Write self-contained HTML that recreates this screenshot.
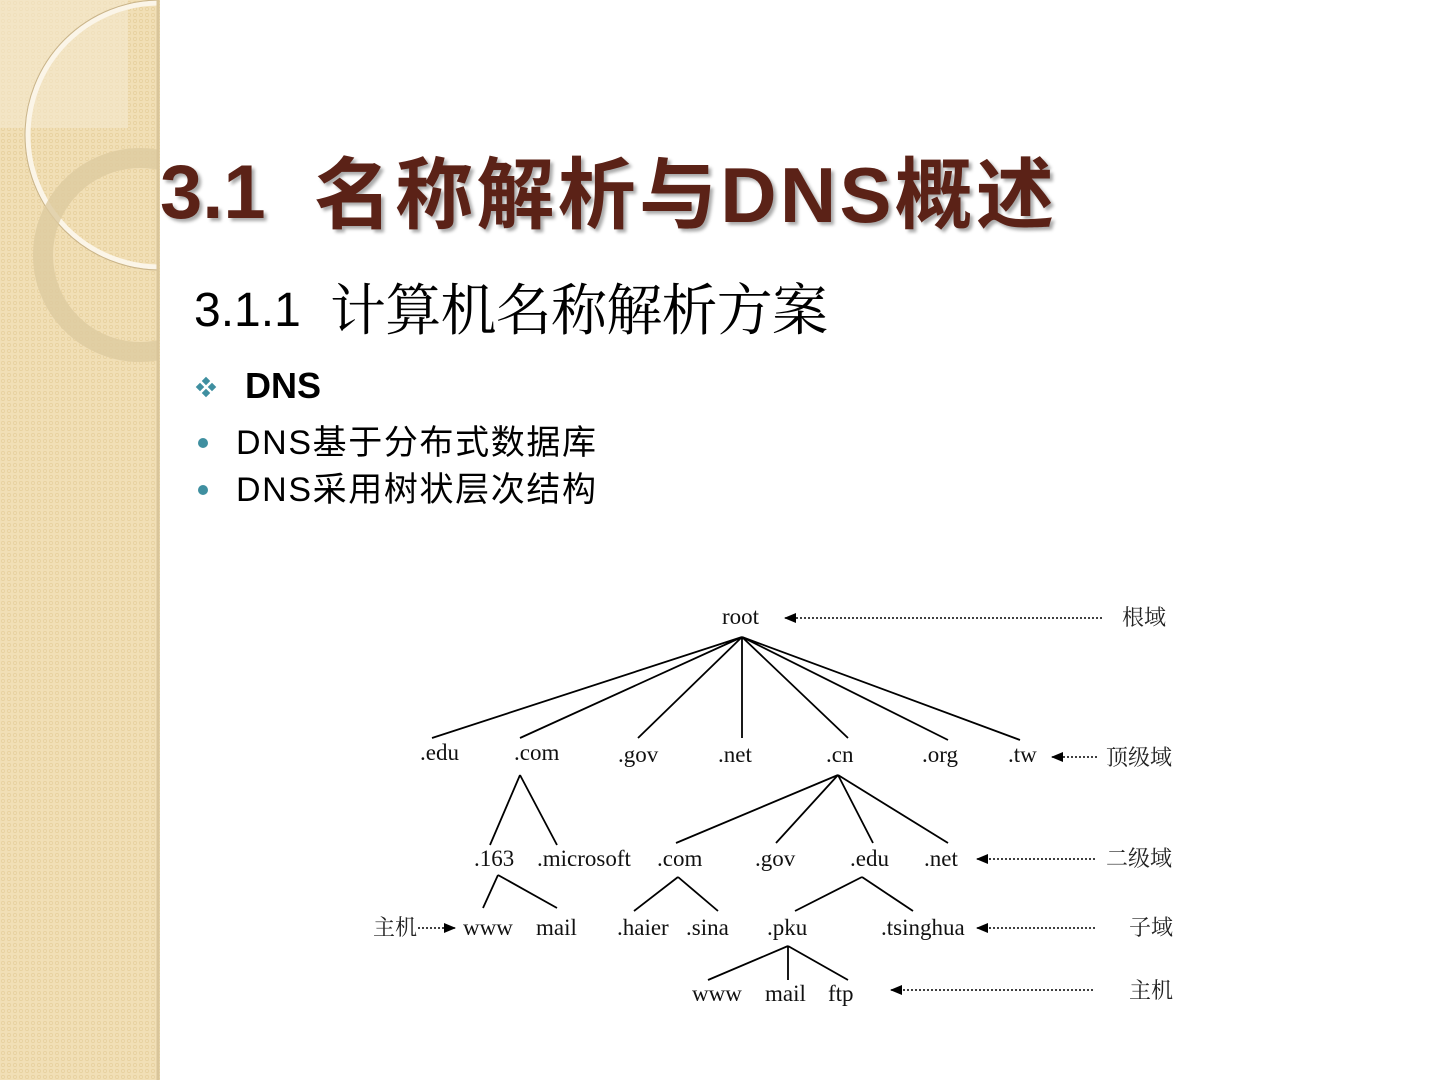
<!DOCTYPE html>
<html><head><meta charset="utf-8"><style>
body{margin:0;width:1440px;height:1080px;overflow:hidden;background:#fff}
svg{display:block}
.t{font-family:"Liberation Serif","Noto Serif CJK SC",serif;font-size:23px;fill:#111}
.c{font-family:"Liberation Serif","Noto Serif CJK SC",serif;font-size:22px;fill:#222}
</style></head><body>
<svg width="1440" height="1080" viewBox="0 0 1440 1080">
<defs>
<pattern id="p" width="6" height="6" patternUnits="userSpaceOnUse"><rect width="6" height="6" fill="#f1dfb6"/><circle cx="3" cy="3" r="1.6" fill="none" stroke="#e6cf9c" stroke-width="0.7"/></pattern>
<marker id="al" markerWidth="12" markerHeight="10" refX="11" refY="5" orient="auto" markerUnits="userSpaceOnUse"><path d="M0,0 L12,5 L0,10 Z" fill="#000"/></marker>
<clipPath id="band"><rect x="0" y="0" width="158" height="1080"/></clipPath>
</defs>
<rect x="0" y="0" width="160" height="1080" fill="url(#p)"/>
<g clip-path="url(#band)">
<rect x="0" y="0" width="128" height="128" fill="#f5e9cf" opacity="0.6"/>
<circle cx="160" cy="135" r="132" fill="none" stroke="#fbf5e8" stroke-width="5"/>
<circle cx="160" cy="135" r="135" fill="none" stroke="#c9b48a" stroke-width="1"/>
<circle cx="140" cy="255" r="97" fill="none" stroke="#ddcaa0" stroke-width="20" opacity="0.8"/>
</g>
<line x1="158" y1="0" x2="158" y2="1080" stroke="#d9c59a" stroke-width="3"/>
<g font-family="'Liberation Sans','Noto Sans CJK SC',sans-serif">
<text x="160" y="218" font-size="76" font-weight="bold" fill="#5b2217" style="text-shadow:3px 3px 3px #aaa">3.1</text>
<text x="314" y="222" font-size="78" font-weight="bold" fill="#5b2217" textLength="740" style="text-shadow:3px 3px 3px #aaa">名称解析与DNS概述</text>
<text x="194" y="326" font-size="48" fill="#000">3.1.1</text>
<text x="330" y="330" font-size="56" fill="#000" textLength="498" font-family="'Noto Serif CJK SC',serif">计算机名称解析方案</text>
<g fill="#3f8fa0"><rect x="203" y="378" width="6" height="6" transform="rotate(45 206 381)"/><rect x="203" y="390" width="6" height="6" transform="rotate(45 206 393)"/><rect x="197" y="384" width="6" height="6" transform="rotate(45 200 387)"/><rect x="209" y="384" width="6" height="6" transform="rotate(45 212 387)"/></g>
<text x="245" y="398" font-size="36" font-weight="bold" fill="#000">DNS</text>
<circle cx="203" cy="443" r="5" fill="#3f8fa0"/><circle cx="203" cy="490" r="5" fill="#3f8fa0"/>
<text x="236" y="454" font-size="34" fill="#000" textLength="360">DNS基于分布式数据库</text>
<text x="236" y="501" font-size="34" fill="#000" textLength="360">DNS采用树状层次结构</text>
</g>
<g stroke="#000" stroke-width="1.8" fill="none">
<path d="M742,637L432,738M742,637L520,738M742,637L638,738M742,637L742,738M742,637L848,738M742,637L948,740M742,637L1020,740"/>
<path d="M520,775L490,845M520,775L557,845"/>
<path d="M838,775L676,843M838,775L776,843M838,775L873,843M838,775L948,843"/>
<path d="M498,875L483,908M498,875L557,908"/>
<path d="M678,877L634,911M678,877L718,911"/>
<path d="M862,877L795,911M862,877L913,911"/>
<path d="M788,946L708,980M788,946L788,980M788,946L848,980"/>
</g>
<g stroke="#000" stroke-width="1.5" stroke-dasharray="2,2" fill="none" marker-end="url(#al)">
<line x1="1102" y1="618" x2="785" y2="618"/>
<line x1="1097" y1="757" x2="1052" y2="757"/>
<line x1="1095" y1="859" x2="977" y2="859"/>
<line x1="1095" y1="928" x2="977" y2="928"/>
<line x1="1093" y1="990" x2="891" y2="990"/>
<line x1="418" y1="928" x2="455" y2="928"/>
</g>
<g class="t">
<text x="722" y="624">root</text>
<text x="420" y="760">.edu</text><text x="514" y="760">.com</text><text x="618" y="762">.gov</text><text x="718" y="762">.net</text><text x="826" y="762">.cn</text><text x="922" y="762">.org</text><text x="1008" y="762">.tw</text>
<text x="474" y="866">.163</text><text x="537" y="866">.microsoft</text><text x="657" y="866">.com</text><text x="755" y="866">.gov</text><text x="850" y="866">.edu</text><text x="924" y="866">.net</text>
<text x="463" y="935">www</text><text x="536" y="935">mail</text><text x="617" y="935">.haier</text><text x="686" y="935">.sina</text><text x="767" y="935">.pku</text><text x="881" y="935">.tsinghua</text>
<text x="692" y="1001">www</text><text x="765" y="1001">mail</text><text x="828" y="1001">ftp</text>
</g>
<g class="c">
<text x="1122" y="625">根域</text><text x="1106" y="765">顶级域</text><text x="1106" y="866">二级域</text><text x="1129" y="935">子域</text><text x="1129" y="998">主机</text><text x="373" y="935">主机</text>
</g>
</svg>
</body></html>
